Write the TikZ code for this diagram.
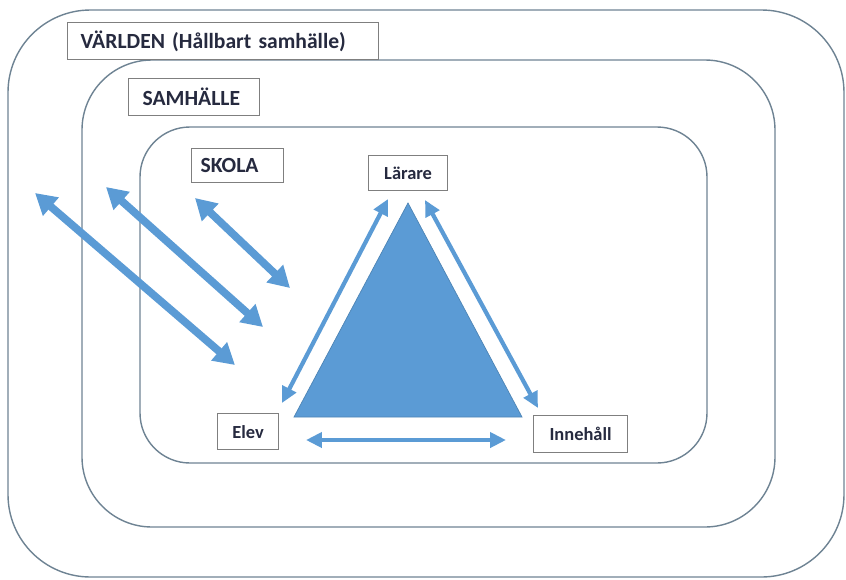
\documentclass[tikz,border=0pt]{standalone}
\usepackage{fontspec}
\setmainfont{Carlito}
\usetikzlibrary{positioning,arrows.meta}

\definecolor{frameline}{HTML}{6E8393}
\definecolor{boxline}{HTML}{7F7F7F}
\definecolor{flowblue}{HTML}{5B9BD5}
\definecolor{labelink}{HTML}{262A3F}

\tikzset{
  levelbox/.style={draw=boxline, line width=0.7pt, fill=white, text=labelink,
    font=\fontsize{10.5}{12}\selectfont\bfseries, inner sep=0pt, anchor=north west},
  levelname/.style={levelbox, font=\fontsize{12.3}{14}\selectfont\bfseries, align=left},
  frame/.style={draw=frameline, line width=0.8pt},
  flow/.style={draw=flowblue, line width=2.4pt,
    {Triangle[width=0.3cm,length=0.32cm]}-{Triangle[width=0.3cm,length=0.32cm]}},
  bigflow/.style={draw=flowblue, line width=4.4pt,
    {Triangle[width=0.46cm,length=0.42cm]}-{Triangle[width=0.46cm,length=0.42cm]}}
}

\begin{document}
\begin{tikzpicture}[x=0.02cm, y=-0.02cm]

\useasboundingbox (0,0) rectangle (846,579);

% nested levels
\draw[frame, rounded corners=1.65cm] (8,10) rectangle (844,577);
\draw[frame, rounded corners=1.4cm] (82,60) rectangle (775,527);
\draw[frame, rounded corners=1cm] (140,127) rectangle (707,463);

\node[levelname, minimum height=0.74cm, text width=5.96cm, inner xsep=0.13cm]
  (varlden) at (67,22) {\hspace*{0.13cm}VÄRLDEN (Hållbart samhälle)};
\node[levelname, minimum height=0.74cm, text width=2.34cm, inner xsep=0.14cm]
  (samhalle) at (128,78) {\hspace*{0.14cm}SAMHÄLLE};
\node[levelname, minimum height=0.68cm, text width=1.66cm, inner xsep=0.09cm]
  (skola) at (191,148) {\hspace*{0.09cm}SKOLA};

% didactic triangle
\coordinate (apex) at (408,203);
\coordinate (baseL) at (294,417);
\coordinate (baseR) at (522,417);
\fill[flowblue, draw=flowblue!85!black, line width=0.4pt] (apex) -- (baseR) -- (baseL) -- cycle;

\node[levelbox, minimum width=1.58cm, minimum height=0.7cm] (larare) at (368,155) {Lärare};
\node[levelbox, minimum width=1.22cm, minimum height=0.72cm] (elev) at (217,413) {Elev};
\node[levelbox, minimum width=1.88cm, minimum height=0.74cm] (innehall) at (533,415) {Innehåll};

\coordinate (tl1) at (388,199);
\coordinate (tl2) at (282,403);
\coordinate (tr1) at (425,200);
\coordinate (tr2) at (538,408);
\coordinate (b1) at (306,440);
\coordinate (b2) at (506,440);
\draw[flow] (tl1) -- (tl2);
\draw[flow] (tr1) -- (tr2);
\draw[flow] (b1) -- (b2);

% exchange with the outer levels
\coordinate (w1) at (35,193);
\coordinate (w2) at (235,365);
\coordinate (s1) at (106,187);
\coordinate (s2) at (263,327);
\coordinate (k1) at (195,198);
\coordinate (k2) at (290,288);
\draw[bigflow] (w1) -- (w2);
\draw[bigflow] (s1) -- (s2);
\draw[bigflow] (k1) -- (k2);

\end{tikzpicture}
\end{document}
